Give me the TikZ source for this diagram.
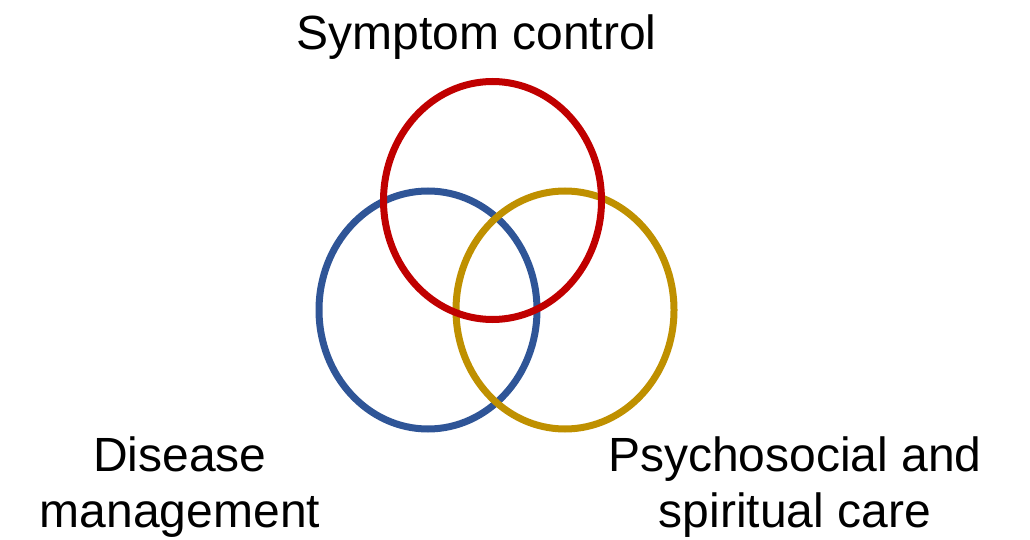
\documentclass[tikz,border=0pt]{standalone}
\usepackage{fontspec}
\setmainfont{Liberation Sans}
\usetikzlibrary{shapes.geometric}
\definecolor{ringred}{HTML}{C00000}
\definecolor{ringblue}{HTML}{2F5597}
\definecolor{ringgold}{HTML}{BF9000}
\begin{document}
\begin{tikzpicture}[x=1pt, y=1pt,
  ring/.style={draw, ellipse, line width=7pt, inner sep=0pt, minimum width=218pt, minimum height=238pt},
  caption/.style={anchor=base, align=center, inner sep=0pt, font=\fontsize{48}{56}\selectfont}]
\useasboundingbox (0,0) rectangle (1030,539);
\node[ring, ringblue] (disease) at (428,229) {};
\node[ring, ringgold] (psycho) at (565,229) {};
\node[ring, ringred] (symptom) at (492.5,338.5) {};
\node[caption] (symptomtext) at (476.5,489) {Symptom control};
\node[caption] (diseasetext) at (180,12) {Disease\\management};
\node[caption] (psychotext) at (795,12) {Psychosocial and\\spiritual care};
\end{tikzpicture}
\end{document}
